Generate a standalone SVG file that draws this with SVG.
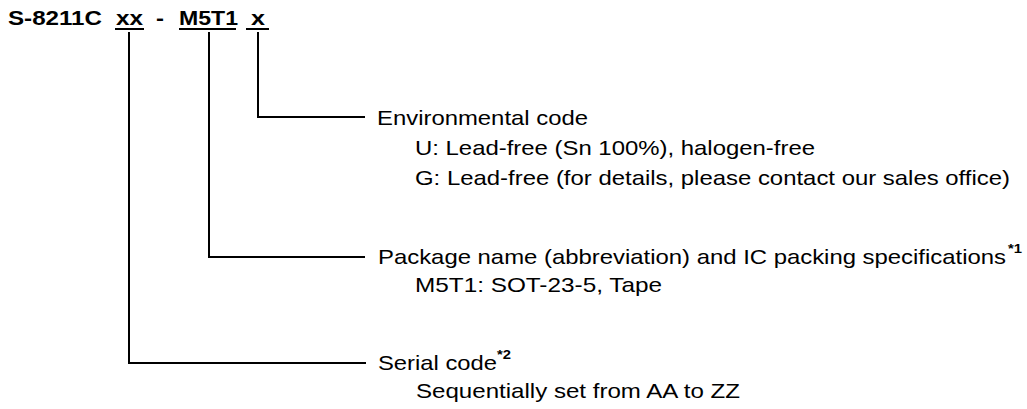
<svg xmlns="http://www.w3.org/2000/svg" width="1027" height="409" viewBox="0 0 1027 409">
<style>
text{font-family:"Liberation Sans",Arial,sans-serif;fill:#000}
.t{font-size:20px;font-weight:bold}
.b{font-size:21px}
.s{font-size:13px;font-weight:bold}
.ln{stroke:#000;stroke-width:2;fill:none}
</style>
<rect width="1027" height="409" fill="#fff"/>
<g id="title">
<text class="t" x="8" y="25" textLength="94" lengthAdjust="spacingAndGlyphs">S-8211C</text>
<text class="t" x="116" y="25" textLength="27" lengthAdjust="spacingAndGlyphs">xx</text>
<text class="t" x="156" y="25" textLength="8" lengthAdjust="spacingAndGlyphs">-</text>
<text class="t" x="179" y="25" textLength="59" lengthAdjust="spacingAndGlyphs">M5T1</text>
<text class="t" x="251" y="25" textLength="14" lengthAdjust="spacingAndGlyphs">x</text>
<line class="ln" x1="115" y1="29" x2="144" y2="29"/>
<line class="ln" x1="179" y1="29" x2="236" y2="29"/>
<line class="ln" x1="246" y1="29" x2="269" y2="29"/>
</g>
<g id="connectors">
<polyline class="ln" points="258,32 258,117 365,117"/>
<polyline class="ln" points="209,32 209,257 365,257"/>
<polyline class="ln" points="129,32 129,363 366,363"/>
</g>
<g id="env">
<text class="b" x="377" y="125" textLength="211" lengthAdjust="spacingAndGlyphs">Environmental code</text>
<text class="b" x="415" y="155" textLength="400" lengthAdjust="spacingAndGlyphs">U: Lead-free (Sn 100%), halogen-free</text>
<text class="b" x="415" y="185" textLength="595" lengthAdjust="spacingAndGlyphs">G: Lead-free (for details, please contact our sales office)</text>
</g>
<g id="pkg">
<text class="b" x="378" y="264" textLength="628" lengthAdjust="spacingAndGlyphs">Package name (abbreviation) and IC packing specifications</text>
<text class="s" x="1008" y="253" textLength="14" lengthAdjust="spacingAndGlyphs">*1</text>
<text class="b" x="415" y="292" textLength="247" lengthAdjust="spacingAndGlyphs">M5T1: SOT-23-5, Tape</text>
</g>
<g id="serial">
<text class="b" x="378" y="370" textLength="119" lengthAdjust="spacingAndGlyphs">Serial code</text>
<text class="s" x="497" y="359" textLength="14" lengthAdjust="spacingAndGlyphs">*2</text>
<text class="b" x="416" y="398" textLength="324" lengthAdjust="spacingAndGlyphs">Sequentially set from AA to ZZ</text>
</g>
</svg>
